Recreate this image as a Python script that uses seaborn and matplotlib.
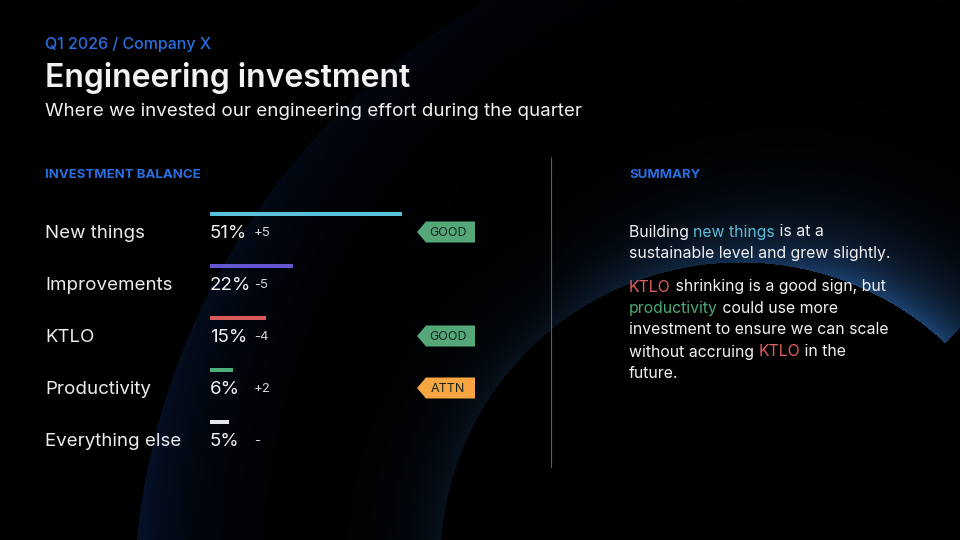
import numpy as np
import matplotlib
matplotlib.use("Agg")
import matplotlib.pyplot as plt
from matplotlib.patches import Polygon
import seaborn as sns

# ---- data ----
categories = ["New things", "Improvements", "KTLO", "Productivity", "Everything else"]
shares = [51, 22, 15, 6, 5]
deltas = ["+5", "-5", "-4", "+2", "-"]
bar_colors = ["#5bc0d9", "#6456cc", "#d95a5a", "#4caf78", "#e6e6ee"]
tags = ["GOOD", None, "GOOD", "ATTN", None]
tag_colors = {"GOOD": "#55a878", "ATTN": "#f7a540"}

WHITE = "#f2f2f4"
BLUE = "#2a6ee0"
CYAN = "#5dbdd6"
RED = "#e0605e"
GREEN = "#4caa74"

summary = [
    [[("Building ", WHITE), ("new things", CYAN), (" is at a", WHITE)],
     [("sustainable level and grew slightly.", WHITE)]],
    [[("KTLO", RED), (" shrinking is a good sign, but", WHITE)],
     [("productivity", GREEN), (" could use more", WHITE)],
     [("investment to ensure we can scale", WHITE)],
     [("without accruing ", WHITE), ("KTLO", RED), (" in the", WHITE)],
     [("future.", WHITE)]],
]

sns.set_theme(style="white")
plt.rcParams["font.family"] = ["Inter", "DejaVu Sans"]

W, H = 960, 540
fig = plt.figure(figsize=(9.6, 5.4), dpi=100, facecolor="black")

# ---- background glow ----
bg = fig.add_axes([0, 0, 1, 1])
bg.set_xlim(0, W)
bg.set_ylim(H, 0)
bg.axis("off")

yy, xx = np.mgrid[0:H, 0:W].astype(float)
img = np.zeros((H, W, 3))

# large circle, faint glowing inner edge
d1 = np.hypot(xx - 833, yy - 608)
r1 = 700
g1 = np.where(d1 < r1, np.exp(-(r1 - d1) / 55.0), 0.0) * (0.25 + 0.75 * yy / H)
img += g1[..., None] * np.array([6, 18, 42]) / 255

# inner dark circle, glowing outer edge
d2 = np.hypot(xx - 740, yy - 562)
r2 = 300
side = np.clip((xx - 430) / 430.0, 0.25, 1.0)
g2 = np.where(d2 > r2, np.exp(-(d2 - r2) / 40.0), 0.0) * side
cut = (yy - 343) * 40 + (xx - 945) * 43 > 0
g2[cut] = 0
img += g2[..., None] * np.array([28, 66, 112]) / 255
img[d2 <= r2] = 0

# triangle at the bottom right
ax_, ay_ = 850, 437
lx, ly = 765, 540
rx, ry = 960, 527


def edge_dist(px, py, qx, qy):
    nx, ny = qy - py, -(qx - px)
    n = np.hypot(nx, ny)
    return ((xx - px) * nx + (yy - py) * ny) / n


dl = edge_dist(ax_, ay_, lx, ly)
dr = edge_dist(rx, ry, ax_, ay_)
inside_t = (dl < 0) & (dr < 0) & (yy > ay_)
gt = np.where(inside_t, np.exp(dl / 45.0) * 0.8 + np.exp(dr / 60.0) * 0.3, 0.0)
img += gt[..., None] * np.array([10, 24, 48]) / 255

bg.imshow(np.clip(img, 0, 1), extent=(0, W, H, 0), aspect="auto", zorder=0)

# ---- bars ----
row0, step = 214, 52
bar_left, px_per_pct = 210, 192 / 51
bar_w_px = 265
bax = fig.add_axes([bar_left / W, 1 - (row0 - step / 2 + step * 5) / H,
                    bar_w_px / W, step * 5 / H])
sns.barplot(x=shares, y=categories, hue=categories, palette=bar_colors,
            orient="h", width=4 / step, legend=False, ax=bax, saturation=1,
            linewidth=0, edgecolor="none")
bax.set_xlim(0, bar_w_px / px_per_pct)
bax.set_ylim(4.5, -0.5)
bax.axis("off")
bax.patch.set_alpha(0)

# ---- text overlay ----
ov = fig.add_axes([0, 0, 1, 1])
ov.set_xlim(0, W)
ov.set_ylim(H, 0)
ov.axis("off")
ov.patch.set_alpha(0)

ov.text(45, 45, "Q1 2026 / Company X", color=BLUE, fontsize=11.5, va="center", weight="medium")
ov.text(45, 78, "Engineering investment", color=WHITE, fontsize=23, va="center", weight="semibold")
ov.text(45, 112, "Where we invested our engineering effort during the quarter",
        color=WHITE, fontsize=13.5, va="center")
ov.text(45, 175, "INVESTMENT BALANCE", color=BLUE, fontsize=9.5, va="center", weight="bold")
ov.text(629, 175, "SUMMARY", color=BLUE, fontsize=9.5, va="center", weight="bold")
ov.plot([551, 551], [157, 467], color="#5a5a60", lw=0.8)

renderer = fig.canvas.get_renderer()


def text_width(s, **kw):
    t = ov.text(0, 0, s + "|", **kw)
    t2 = ov.text(0, 0, "|", **kw)
    w = t.get_window_extent(renderer).width - t2.get_window_extent(renderer).width
    t.remove()
    t2.remove()
    return w


for i, cat in enumerate(categories):
    ty = row0 + 20 + step * i
    ov.text(45, ty, cat, color="#ececee", fontsize=13.5, va="center")
    pct = f"{shares[i]}%"
    ov.text(bar_left, ty, pct, color=WHITE, fontsize=13.5, va="center")
    pw = text_width(pct, fontsize=13.5)
    dx = max(254, bar_left + pw + 2)
    ov.text(dx, ty - 1, deltas[i], color="#d4d4d8", fontsize=9.5, va="center")
    if tags[i]:
        c = tag_colors[tags[i]]
        tyc = ty - 2
        poly = Polygon([(417, tyc), (426, tyc - 10.5), (475, tyc - 10.5),
                        (475, tyc + 10.5), (426, tyc + 10.5)],
                       closed=True, facecolor=c, edgecolor="none")
        ov.add_patch(poly)
        ov.text(448, tyc + 1, tags[i], color="#15251c", fontsize=9, ha="center", va="center")

# summary paragraphs with coloured runs
line_y = [[232, 253.5], [287, 308.5, 330, 352, 374]]
for para, ys in zip(summary, line_y):
    for segs, y in zip(para, ys):
        prefix = ""
        for s, c in segs:
            x = 629 + (text_width(prefix, fontsize=11.4) if prefix else 0)
            ov.text(x, y, s, color=c, fontsize=11.4, va="center")
            prefix += s

fig.savefig("out.png", dpi=100, facecolor="black")
